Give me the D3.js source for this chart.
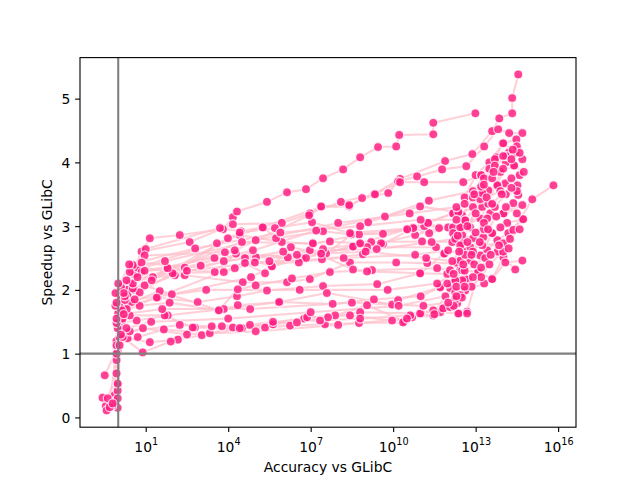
<!DOCTYPE html>
<html><head><meta charset="utf-8">
<script src="https://cdn.jsdelivr.net/npm/d3@7"></script>
<style>body{margin:0;background:#fff}</style>
</head><body>
<svg id="c" width="640" height="480"></svg>
<script>
// Each series: [log10(accuracy vs GLibC), speedup vs GLibC]
const s01 = [[0.05,1.9],[0.5,2.3],[1.15,2.81],[2.24,2.86],[3.81,2.95],[4.17,3.14],[4.32,3.23],[5.41,3.38],[6.14,3.53],[6.83,3.58],[7.45,3.75],[8.18,3.89],[8.8,4.08],[9.45,4.24],[10.11,4.25],[10.22,4.43],[11.46,4.44],[11.46,4.62],[12.99,4.77]];
const s02 = [[-0.13,0.35],[-0.06,1.2],[0.24,2.0],[0.85,2.6],[2.6,2.75],[4.17,3.03],[5.95,3.05],[6.97,3.2],[8.1,3.38],[9.31,3.5],[10.25,3.74],[11.89,4.02],[12.88,4.13],[13.6,4.49],[13.86,4.69],[14.33,4.77],[14.33,5.01],[14.55,5.38]];
const s03 = [[-0.02,1.7],[0.6,2.25],[1.0,2.64],[3.7,2.97],[4.46,2.92],[5.23,2.98],[7.38,3.3],[8.4,3.31],[8.87,3.44],[9.82,3.52],[10.18,3.7],[10.87,3.78],[11.78,3.89],[12.66,3.94],[13.31,4.25],[13.82,4.52],[14.22,4.46],[14.7,4.46]];
const s04 = [[-0.02,0.15],[-0.06,0.9],[0.13,1.85],[0.71,2.35],[3.59,2.73],[4.42,2.86],[5.95,2.75],[7.08,2.72],[8.76,2.87],[10.51,2.95],[11.27,3.05],[12.18,3.2],[12.6,3.45],[13.0,3.8],[13.5,4.0],[14.0,4.3],[14.48,4.36]];
const s05 = [[0.0,1.5],[0.42,2.1],[0.96,2.54],[3.88,2.59],[6.17,2.51],[7.38,2.57],[8.54,2.68],[9.63,2.72],[10.73,2.97],[11.31,2.89],[12.0,2.98],[12.51,3.17],[12.9,3.45],[13.24,3.52],[13.75,4.08],[14.2,4.15]];
const s06 = [[-0.06,1.1],[0.31,2.0],[0.85,2.28],[1.77,2.34],[3.51,2.28],[4.28,2.57],[5.01,2.51],[6.68,2.5],[7.56,2.57],[9.09,3.06],[10.98,3.31],[12.37,3.22],[13.24,3.3],[13.46,3.56],[14.08,3.67],[14.52,3.64]];
const s07 = [[-0.02,0.5],[0.05,1.6],[0.53,2.39],[1.98,2.26],[3.99,2.81],[5.26,2.98],[5.74,2.81],[7.45,2.92],[8.47,2.87],[9.63,2.88],[11.13,3.0],[12.44,2.98],[13.17,3.12],[13.46,3.35],[13.9,3.85],[14.4,3.95]];
const s08 = [[0.05,1.35],[0.34,1.93],[1.26,2.2],[2.42,2.23],[4.53,2.12],[6.14,2.12],[6.97,2.17],[8.43,2.43],[10.11,2.43],[11.24,2.42],[12.33,2.42],[12.8,2.67],[13.28,2.83],[13.53,3.2],[14.01,3.2],[14.55,3.49]];
const s09 = [[-0.13,0.25],[-0.02,1.05],[0.24,1.73],[1.44,1.88],[2.89,1.81],[4.32,1.9],[5.41,1.99],[7.45,2.06],[9.42,2.09],[10.98,2.26],[11.97,2.25],[12.44,2.31],[12.8,2.46],[13.42,2.62],[13.79,2.78],[14.19,2.89],[14.7,3.11]];
const s10 = [[0.05,1.44],[0.49,1.81],[1.51,1.98],[3.66,1.68],[4.35,2.01],[5.0,2.07],[6.32,2.18],[7.7,2.28],[9.23,2.31],[11.6,2.34],[12.07,2.31],[12.44,2.46],[13.17,2.54],[13.6,2.89],[14.15,3.05],[14.73,3.11]];
const s11 = [[-0.2,0.19],[-0.06,1.0],[0.16,1.6],[0.96,2.07],[1.95,1.93],[4.83,2.2],[5.59,2.37],[6.97,2.62],[8.54,2.32],[9.05,2.29],[10.98,2.26],[11.86,2.57],[12.51,2.62],[13.24,2.7],[14.01,2.73],[14.37,2.94],[15.06,3.42],[15.83,3.64]];
const s12 = [[-0.45,0.18],[-0.02,0.42],[0.13,1.49],[0.67,1.52],[1.8,1.6],[3.84,1.7],[5.88,1.81],[7.59,1.95],[9.96,1.77],[10.18,1.84],[11.71,2.04],[12.26,2.15],[12.73,2.17],[13.09,2.28],[13.6,2.17],[14.01,2.51],[14.44,2.32]];
const s13 = [[-0.42,0.11],[-0.02,0.3],[0.05,1.26],[0.34,1.24],[1.15,1.18],[2.17,1.22],[3.04,1.29],[4.5,1.4],[5.63,1.46],[6.76,1.55],[7.89,1.6],[9.05,1.76],[10.4,1.51],[11.02,1.63],[11.82,1.71],[12.4,1.63],[12.69,1.66],[13.09,2.26]];
const s14 = [[-0.57,0.31],[-0.31,0.16],[-0.06,1.13],[0.71,1.26],[1.66,1.38],[3.33,1.32],[4.17,1.41],[5.34,1.41],[6.25,1.44],[7.52,1.46],[8.76,1.48],[10.36,1.49],[10.69,1.57],[11.71,1.65],[12.37,1.63],[12.69,1.63]];
const s15 = [[-0.49,0.66],[0.16,1.26],[0.89,1.02],[1.91,1.19],[2.79,1.41],[3.77,1.43],[5.63,1.46],[6.5,1.49],[7.63,1.57],[8.8,1.65],[10.98,1.63],[11.82,1.71],[12.15,1.73],[12.33,1.79],[12.62,1.99],[13.31,2.1]];
const s16 = [[-0.38,0.3],[-0.06,0.69],[0.05,1.41],[0.42,1.6],[1.69,1.6],[2.71,1.41],[4.42,1.4],[6.87,1.57],[8.43,1.6],[9.96,1.52],[11.46,1.6],[12.07,2.03],[12.26,1.96],[12.44,1.92],[12.62,2.17]];
const s17 = [[0.24,1.84],[0.6,2.0],[2.06,2.23],[3.84,2.45],[4.61,2.5],[5.59,2.37],[6.83,2.5],[7.45,2.64],[8.76,2.72],[9.56,2.73],[10.8,2.86],[11.67,2.97],[12.18,2.98],[12.62,3.09],[13.17,3.42],[13.79,3.64],[14.6,3.8]];
const s18 = [[0.16,1.55],[0.78,1.96],[1.98,2.26],[3.84,2.28],[4.24,2.34],[4.97,2.43],[6.57,2.43],[7.41,2.48],[8.9,2.56],[9.2,2.75],[11.05,2.76],[12.15,2.75],[12.51,2.86],[12.91,2.81],[13.6,2.89],[13.9,2.98],[14.37,3.36]];
const s19 = [[-0.02,1.4],[0.31,1.7],[1.4,1.88],[4.61,2.42],[5.34,2.26],[6.28,2.67],[7.38,2.57],[8.54,2.68],[9.05,2.67],[11.56,2.67],[11.86,2.57],[12.44,2.98],[12.8,2.98],[13.2,3.8],[13.7,4.05],[14.0,4.3],[14.45,4.15]];
const s20 = [[0.05,1.73],[0.53,2.02],[1.22,2.15],[4.42,2.9],[5.7,2.97],[7.05,3.06],[8.43,2.89],[10.73,2.97],[11.27,3.05],[12.18,2.89],[12.51,2.73],[13.24,3.52],[13.79,3.64],[14.1,4.0],[14.75,3.85]];
const s21 = [[-0.06,1.48],[0.24,1.9],[1.8,2.34],[4.24,2.62],[6.94,3.17],[7.38,3.31],[8.4,3.33],[9.34,3.5],[10.25,3.69],[11.13,3.69],[12.55,3.69],[13.2,3.8],[13.5,3.9],[14.2,4.15],[14.4,3.95]];
const s22 = [[0.0,1.63],[0.53,2.1],[4.5,2.75],[7.08,2.73],[7.7,2.76],[8.8,2.73],[10.51,2.95],[12.18,3.2],[12.37,3.22],[12.62,3.09],[13.42,3.12],[14.01,3.2],[14.7,3.33]];
const s23 = [[-0.2,0.22],[0.05,1.13],[0.42,1.35],[2.24,1.45],[3.4,1.43],[4.79,1.45],[5.63,1.5],[7.34,1.52],[8.8,1.55],[10.62,1.6],[11.46,1.68],[12.07,1.73],[12.26,1.85],[12.51,2.15]];
const s24 = [[-0.02,0.53],[0.13,1.68],[0.78,1.75],[1.87,1.8],[3.66,1.68],[4.35,1.76],[5.85,1.81],[7.8,1.78],[9.3,1.85],[11.0,1.9],[11.71,2.04],[11.97,2.1],[12.26,2.15],[12.51,2.31],[13.09,2.28],[13.6,2.17],[14.08,2.43],[14.7,2.46]];
const s25 = [[0.1,2.05],[0.85,2.43],[2.42,2.35],[4.9,2.62],[7.2,2.93],[9.7,3.15],[11.3,3.4],[12.9,3.55],[13.3,3.75],[13.7,3.95],[14.1,4.1],[14.5,4.25],[14.7,4.05]];
const s26 = [[-0.1,1.75],[0.42,2.28],[1.7,2.45],[5.0,2.78],[8.0,3.05],[10.6,3.2],[12.3,3.3],[12.9,3.3],[13.2,3.62],[13.6,3.75],[14.0,3.9],[14.3,4.05],[14.6,4.15]];
const s27 = [[0.2,1.95],[0.7,2.2],[3.0,2.38],[6.0,2.6],[9.4,2.64],[11.4,2.75],[12.26,2.8],[12.44,2.7],[12.62,2.55],[12.9,2.6],[13.3,2.95],[13.7,3.3],[14.1,3.5],[14.5,3.55]];
const s28 = [[0.3,1.4],[1.2,1.5],[4.0,1.55],[7.0,1.65],[10.2,1.75],[11.9,1.9],[12.3,2.05],[12.6,2.3],[12.95,2.4],[13.35,2.5],[13.8,2.6],[14.25,2.8],[14.6,2.95]];
const s29 = [[-0.06,1.8],[0.3,2.15],[2.5,2.3],[5.5,2.45],[8.2,2.5],[10.8,2.55],[12.0,2.62],[12.35,2.85],[12.7,3.0],[13.0,3.2],[13.4,3.45],[13.9,3.55],[14.3,3.75]];
const s30 = [[0.1,1.3],[0.9,1.4],[2.5,1.3],[5.0,1.35],[8.0,1.45],[10.5,1.55],[11.5,1.62],[12.2,1.75],[12.5,1.88],[12.85,2.05],[13.2,2.2],[13.5,2.4],[14.0,2.6]];
const s31 = [[0.0,2.1],[0.96,2.3],[3.5,2.5],[6.5,2.55],[9.0,2.6],[11.2,2.5],[12.15,2.45],[12.4,2.6],[12.7,2.75],[13.0,2.9],[13.3,3.05],[13.6,3.35],[13.95,3.5],[14.3,3.6]];
const s32 = [[-0.06,1.55],[0.6,1.85],[3.2,2.0],[6.6,2.0],[9.8,2.0],[11.6,2.1],[12.2,2.25],[12.55,2.4],[12.85,2.55],[13.15,2.75],[13.45,2.95],[13.75,3.15],[14.1,3.3],[14.5,3.2]];
const s33 = [[0.2,1.62],[1.6,1.7],[4.8,1.7],[8.5,1.8],[11.1,1.75],[12.0,1.8],[12.3,1.9],[12.6,2.05],[12.9,2.2],[13.2,2.35],[13.55,2.55],[13.85,2.7],[14.2,2.65]];
const s34 = [[-0.1,1.95],[0.4,2.4],[2.8,2.65],[5.9,2.9],[8.8,3.0],[11.0,3.1],[12.3,3.1],[12.6,3.35],[12.95,3.5],[13.3,3.65],[13.65,3.85],[14.0,4.1],[14.35,4.2]];

const seriesList = [s01,s02,s03,s04,s05,s06,s07,s08,s09,s10,s11,s12,s13,s14,s15,s16,s17,s18,s19,s20,s21,s22,s23,s24,s25,s26,s27,s28,s29,s30,s31,s32,s33,s34];
const xTickExponents = [1, 4, 7, 10, 13, 16];
const yTicks = [0, 1, 2, 3, 4, 5];
const refAccuracy = 1;
const refSpeedup = 1;
const xLabel = "Accuracy vs GLibC";
const yLabel = "Speedup vs GLibC";

const W = 640, H = 480;
const L = 80, R = 576, T = 57.6, B = 427.2;
const FONT = "DejaVu Sans, sans-serif";
const FS = 13.89;

const series = seriesList.map(s => s.map(([e, v]) => ({acc: Math.pow(10, e), sp: v})));
const allPts = series.flat();
const lxExt = d3.extent(allPts, d => Math.log10(d.acc));
const lxPad = (lxExt[1] - lxExt[0]) * 0.05;
const yExt = d3.extent(allPts, d => d.sp);
const yPad = (yExt[1] - yExt[0]) * 0.05;

const x = d3.scaleLog().domain([Math.pow(10, lxExt[0] - lxPad), Math.pow(10, lxExt[1] + lxPad)]).range([L, R]);
const y = d3.scaleLinear().domain([yExt[0] - yPad, yExt[1] + yPad]).range([B, T]);

const svg = d3.select("#c");
svg.append("rect").attr("width", W).attr("height", H).attr("fill", "#fff");

const clip = svg.append("defs").append("clipPath").attr("id", "clip");
clip.append("rect").attr("x", L).attr("y", T).attr("width", R - L).attr("height", B - T);

const plot = svg.append("g").attr("clip-path", "url(#clip)");
const line = d3.line().x(d => x(d.acc)).y(d => y(d.sp));

plot.selectAll("path.ser").data(series).join("path")
  .attr("class", "ser").attr("d", line)
  .attr("fill", "none").attr("stroke", "#ffc0cb").attr("stroke-opacity", 0.75)
  .attr("stroke-width", 2.08).attr("stroke-linejoin", "round");

plot.selectAll("circle").data(allPts).join("circle")
  .attr("cx", d => x(d.acc)).attr("cy", d => y(d.sp)).attr("r", 4.5)
  .attr("fill", "#ff2184").attr("fill-opacity", 0.85)
  .attr("stroke", "#fff").attr("stroke-opacity", 0.75).attr("stroke-width", 1.3);

// reference lines
plot.append("line").attr("x1", x(refAccuracy)).attr("x2", x(refAccuracy)).attr("y1", T).attr("y2", B)
  .attr("stroke", "#808080").attr("stroke-width", 2.08);
plot.append("line").attr("x1", L).attr("x2", R).attr("y1", y(refSpeedup)).attr("y2", y(refSpeedup))
  .attr("stroke", "#808080").attr("stroke-width", 2.08);

// axes
const xAxis = d3.axisBottom(x).tickValues(xTickExponents.map(e => Math.pow(10, e)))
  .tickSize(4.86).tickSizeOuter(0).tickFormat(() => "");
const gx = svg.append("g").attr("transform", `translate(0,${B})`).call(xAxis);
gx.select(".domain").remove();
gx.selectAll(".tick line").attr("stroke", "#000").attr("stroke-width", 1.11);
gx.selectAll(".tick").each(function(d, i) {
  const t = d3.select(this).append("text").attr("x", 0).attr("y", 24.5)
    .attr("text-anchor", "middle").attr("fill", "#000")
    .attr("font-family", FONT).attr("font-size", FS);
  t.append("tspan").text("10");
  t.append("tspan").attr("dy", -6.5).attr("font-size", 9.7).text(xTickExponents[i]);
});

const yAxis = d3.axisLeft(y).tickValues(yTicks).tickSize(4.86).tickSizeOuter(0).tickFormat(d3.format("d"));
const gy = svg.append("g").attr("transform", `translate(${L},0)`).call(yAxis);
gy.select(".domain").remove();
gy.selectAll(".tick line").attr("stroke", "#000").attr("stroke-width", 1.11);
gy.selectAll(".tick text").attr("x", -9.72).attr("dy", "0.35em")
  .attr("font-family", FONT).attr("font-size", FS).attr("fill", "#000");

svg.append("rect").attr("x", L).attr("y", T).attr("width", R - L).attr("height", B - T)
  .attr("fill", "none").attr("stroke", "#000").attr("stroke-width", 1.11);

svg.append("text").attr("x", (L + R) / 2).attr("y", 472).attr("text-anchor", "middle")
  .attr("font-family", FONT).attr("font-size", FS).text(xLabel);
svg.append("text").attr("transform", `translate(52,${(T + B) / 2}) rotate(-90)`).attr("text-anchor", "middle")
  .attr("font-family", FONT).attr("font-size", FS).text(yLabel);
</script>
</body></html>
